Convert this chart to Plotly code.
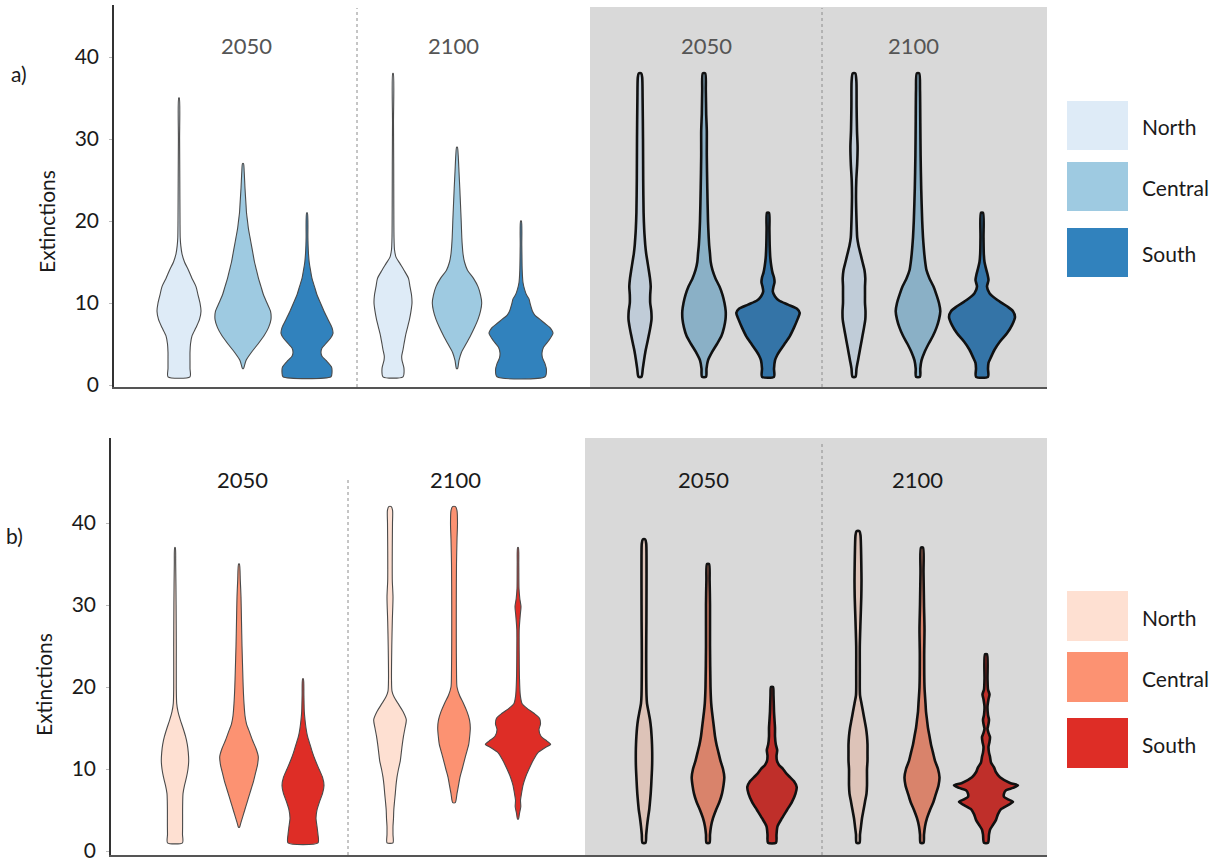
import plotly.graph_objects as go

# ---------------- data ----------------
REGIONS = ["North", "Central", "South"]
YEAR_LABELS = ["2050", "2100", "2050", "2100"]
Y_TICKS = [0, 10, 20, 30, 40]

# Violin density profiles: (extinctions, relative half-width)
# Panel a) white background
A_W50_N = [(1,11),(2,11),(3,11),(4,11),(5,11.5),(6,13),(7,17),(8,20.5),(9,22),(10,21),(11,19),(12,17),(13,13),(14,9.5),(15,5.5),(16,3),(17,1.8),(18,1.2),(20,1.0),(25,0.8),(30,0.6),(35,0.3)]
A_W50_C = [(2,0.5),(3,3),(4,8.5),(5,15),(6,21),(7,25.5),(8,28),(9,27.5),(10,24),(11,20.5),(12,18),(13,15.5),(14,13.5),(15,11.5),(16,10),(17,8.5),(18,7),(19,5.5),(20,4.5),(21,3.5),(22,3),(24,2),(26,1.2),(27,0.5)]
A_W50_S = [(1,24),(1.5,25),(2.2,24.5),(3,19),(3.5,15),(4,14),(4.5,15),(5,18.5),(5.7,23.5),(6.3,26),(7,25),(8,21),(9,17),(10,13.5),(11,10),(12,7.5),(13,5),(14,3.5),(15,2.2),(16,1.5),(17,1.1),(18,0.9),(21,0.4)]
A_W100_N = [(1,10),(2,11),(3,9),(3.5,8.7),(4.3,10),(5,11),(6,12.5),(7,14.5),(8,16.5),(9,18),(10,19),(11,18.5),(12,17),(13,15.5),(14,11),(14.8,7),(15.6,3),(16.5,1.5),(18,1),(22,0.8),(27,0.7),(32,0.5),(38,0.3)]
A_W100_C = [(2,0.5),(3,2),(4,4.5),(5,9),(6,13.5),(7,17.5),(8,21),(9,23.5),(10,24.7),(11,23.5),(12,21),(13,16.5),(14,10.5),(15,7.5),(16,6),(17,5.3),(18,4.8),(20,4.2),(22,3.5),(24,2.8),(26,2),(28,1.2),(29,0.4)]
A_W100_S = [(1,24),(1.8,25.5),(2.6,24),(3.3,21.5),(3.9,21),(4.6,22.5),(5.3,27),(6.3,32),(7,29),(7.5,24),(8,19),(8.5,14),(9,11.5),(10,9),(10.5,8),(11,5.5),(11.6,3.7),(12.5,2),(14,1.2),(17,0.8),(20,0.4)]
# Panel a) grey background
A_G50_N = [(1,1.5),(2,2.8),(3,4),(4,5.3),(5,7),(6,8.7),(7,10.3),(8,11.5),(9,11.3),(10,10.2),(11,10.2),(12,10.7),(13,10),(14,8.8),(15,7.5),(16,6.2),(17,5.3),(18,4.7),(19,4.2),(21,3.6),(25,3.2),(30,3),(35,2.6),(37.5,2.2),(38,1.3)]
A_G50_C = [(1,2),(2,2.5),(3,4),(4,8),(5,13),(6,17.5),(7,20),(8,21.5),(9,21.7),(10,20.5),(11,18.5),(12,15.5),(13,11.5),(14,8.5),(15,6.7),(16,6),(17,5.2),(18,4.7),(20,4),(24,3.3),(28,2.8),(31,2.8),(33,2.2),(36,1.8),(38,1.2)]
A_G50_S = [(1,6),(2,6),(3,7),(3.6,9),(4.2,12),(5,16.5),(6,22),(7,26),(8,29.5),(8.8,31.7),(9.3,29),(9.8,20),(10.3,11),(10.8,7),(11.4,4.8),(12,5.5),(12.5,6.5),(13.1,6),(13.7,4.5),(14.5,3.3),(15.5,2.3),(17,1.7),(19,1.4),(21,1)]
A_G100_N = [(1,1.5),(2,2.5),(3,4),(4,5.5),(5,7),(6,8.5),(7,10),(8,11.3),(9,11.5),(10,11),(11,11),(12,11),(13,11.3),(14,10.5),(15,8.5),(16,6.5),(17,4.5),(18,3.2),(19,2.8),(21,2.3),(23,2),(25,2.3),(27,3.2),(29,3.6),(31,3),(34,2.6),(37,2.4),(38,1.3)]
A_G100_C = [(1,2),(2,2.3),(3,3.5),(4,6.5),(5,10.5),(6,15),(7,18.5),(8,21),(9,22.3),(10,21),(11,18.5),(12,15.5),(13,11.5),(14,8.5),(15,7.2),(16,6.3),(17,5.6),(18,5),(20,4.2),(24,3.2),(28,2.6),(32,2.3),(36,2),(38,1.2)]
A_G100_S = [(1,6),(2,6),(2.7,6.5),(3.4,9),(4.3,12.5),(5.3,18),(6.3,25),(7.3,30),(8.3,33),(9,31),(9.6,25),(10.4,15),(11.2,7.5),(12,5),(12.8,6.5),(13.5,5.5),(14.2,4),(15,2.5),(16,1.8),(18,1.5),(21,1)]

# Panel b) white background
B_W50_N = [(1,7.5),(2,7.5),(3,7.6),(4,7.6),(5,7.6),(6,7.7),(7,8),(8,9.5),(9,11.5),(10,13),(11,13.7),(12,13.3),(13,12.3),(14,10.5),(15,8),(16,5.3),(17,3),(18,1.7),(20,1.3),(25,1.3),(30,1.1),(35,0.7),(37,0.3)]
B_W50_C = [(2.9,0.5),(3.5,2),(4.5,4.5),(5.5,7),(6.5,9.5),(7.5,12),(8.5,14.5),(9.5,16.5),(10.5,18.5),(11.5,19.3),(12.5,17),(13.5,13.5),(14.5,10.5),(15.5,7.5),(16.5,6),(18,5),(20,4.2),(22,3.7),(25,3),(28,2.5),(31,2),(33,1.3),(35,0.4)]
B_W50_S = [(1,15),(2,15),(3,14),(4,13),(5,14),(6,16.5),(7,19.5),(8,21),(9,19.5),(10,16),(11,12.5),(12,9.5),(13,7),(14,4.5),(15,3),(16,2),(17,1.3),(19,0.9),(21,0.4)]
B_W100_N = [(1,3),(2,3),(3,3),(4,3.5),(5,3.8),(6,4.5),(7,5.3),(8,6),(9,7),(10,8.5),(11,10.3),(12,11.3),(13,12.3),(14,13.5),(15,15),(16,16.3),(17,13),(18,8),(18.8,4),(19.5,2),(21,1.5),(25,1.8),(28,2.3),(31,3),(33,2.3),(37,2.3),(40,2.5),(41.5,2.6),(42,1.3)]
B_W100_C = [(5.9,1.3),(7,3),(8,4.5),(9,6),(10,8.2),(11,10.3),(12,12.5),(13,14.7),(14,15.7),(15,16.3),(16,15.5),(17,13),(18,9.5),(19,5.5),(20,3),(22,2.5),(26,2.3),(30,2.3),(35,2.5),(38,3),(40,3.5),(41.5,3),(42,1.5)]
B_W100_S = [(3.9,0.5),(4.6,1.5),(5.4,2.8),(6.2,2.5),(7,3.5),(8,5),(9,7.5),(10,11),(11,15),(12,20),(12.6,27),(13,32.7),(13.4,29),(14,23),(14.8,21),(15.5,22.5),(16.2,21.5),(16.8,16),(17.4,9),(18,4),(19,2.3),(21,1.5),(24,1.2),(27,1.2),(28.7,2.2),(29.8,3),(30.8,1.8),(32,1),(35,0.8),(37,0.4)]
# Panel b) grey background
B_G50_N = [(1,1.5),(2,2.2),(3,3),(4,4),(5,5.2),(6,6),(7,6.7),(8,7.2),(9,7.6),(10,8),(11,8.2),(12,8.2),(13,8),(14,7.6),(15,7),(16,6),(17,4.5),(18,3),(19,2.5),(24,2.2),(28,2.4),(32,2.5),(36,2.5),(37.5,2.2),(38,1.2)]
B_G50_C = [(1,1.5),(2,2),(3,3),(4,5),(5,8),(6,11.5),(7,14),(8,15.5),(9,16.3),(10,15),(11,12.5),(12,10.5),(13,8.5),(14,7),(15,6),(16,5),(17,4),(18,3.2),(20,2.5),(25,2),(30,2),(33,1.6),(35,1)]
B_G50_S = [(1,4),(2,4.5),(3,5.5),(4,10),(5,15),(6,20),(7,23.5),(7.8,24.7),(8.5,22),(9,18),(9.5,14),(10,11),(10.5,7),(11,5),(11.6,4.5),(12.3,5.2),(13,3.8),(14,3),(15,3),(16,2.5),(17,2),(19,1.5),(20,1)]
B_G100_N = [(1,1.5),(2,2),(3,3),(4,4),(5,5.5),(6,7),(7,8.5),(8,9),(9,9),(10,9),(11,9.5),(12,9.5),(13,9.5),(14,9),(15,8),(16,6.5),(17,5),(18,3.5),(19,2),(22,1.8),(25,1.8),(28,2.5),(31,3.3),(33,3.5),(35,3.3),(37,3),(38.5,2.5),(39,1.5)]
B_G100_C = [(1,1.5),(2,2),(3,3),(4,5),(5,8),(6,11.5),(7,14),(8,16.5),(9,17.5),(10,16),(11,13),(12,11),(13,9),(14,7.5),(15,6),(16,5),(17,4),(18,3.5),(20,2.5),(24,2.2),(27,2.5),(30,2),(34,1.5),(37,1)]
B_G100_S = [(1,2),(2,3),(2.6,4),(3.2,7),(3.8,10),(4.5,12),(5.1,15),(5.6,22),(6,27),(6.3,22),(6.6,18),(7,18),(7.4,20),(7.7,27),(8,32),(8.3,24),(9,14),(9.6,10),(10.2,8),(10.8,5),(11.5,4),(12,3),(12.7,2.5),(13.3,3.5),(13.9,4),(14.4,2.5),(14.9,1.5),(15.5,2.5),(16,3),(16.6,2),(17.6,1.5),(18.5,2.5),(19.1,3.5),(19.7,2),(21,1.5),(24,1)]

PANEL_A = [[A_W50_N, A_W50_C, A_W50_S], [A_W100_N, A_W100_C, A_W100_S],
           [A_G50_N, A_G50_C, A_G50_S], [A_G100_N, A_G100_C, A_G100_S]]
PANEL_B = [[B_W50_N, B_W50_C, B_W50_S], [B_W100_N, B_W100_C, B_W100_S],
           [B_G50_N, B_G50_C, B_G50_S], [B_G100_N, B_G100_C, B_G100_S]]

# ---------------- styles / layout constants ----------------
W, H = 1225, 865
SLOT = 64.0            # px between neighbouring violins
FONT = "Lato"
BLUES = ["#DEEBF7", "#9ECAE1", "#3182BD"]
BLUES_GREY = ["#C0CCD8", "#8AB0C6", "#3474A7"]
REDS = ["#FEE0D2", "#FC9272", "#DE2D26"]
REDS_GREY = ["#DDC3B8", "#D9836B", "#BF2F2A"]
GREY_BG = "#D9D9D9"

PANELS = [
    dict(name="a", data=PANEL_A, cols=BLUES, cols_g=BLUES_GREY, xa="x", ya="y",
         left=114, right=1047, top=5, bottom=387, zero=385, ppu=8.2,
         centers=[243, 457, 704, 918], grey_x=590, grey_top=7,
         dotted=[(357, 8), (822, 8)], year_y=45, year_col="#555555",
         year_x=[246, 453, 706, 913], label=("a)", 19, 73), ytitle=(47, 222),
         leg_top=[101, 162, 228], leg_h=49),
    dict(name="b", data=PANEL_B, cols=REDS, cols_g=REDS_GREY, xa="x2", ya="y2",
         left=111, right=1047, top=438, bottom=855, zero=851, ppu=8.2,
         centers=[239, 454, 708, 922], grey_x=585, grey_top=438,
         dotted=[(348, 480), (822, 443)], year_y=480, year_col="#1a1a1a",
         year_x=[242, 455, 703, 917], label=("b)", 14, 535), ytitle=(43, 685),
         leg_top=[591, 652, 718], leg_h=50),
]

fig = go.Figure()
shapes, annotations = [], []
layout_axes = {}

for p in PANELS:
    xr = [0, (p["right"] - p["left"]) / SLOT]
    y0 = -(p["bottom"] - p["zero"]) / (p["ppu"])
    y1 = (p["zero"] - p["top"]) / p["ppu"]
    def val(py, p=p):
        return (p["zero"] - py) / p["ppu"]
    def xu(px, p=p):
        return (px - p["left"]) / SLOT

    # grey background block and dotted separators
    shapes.append(dict(type="rect", xref=p["xa"], yref=p["ya"], x0=xu(p["grey_x"]), x1=xr[1],
                       y0=y0, y1=val(p["grey_top"]), fillcolor=GREY_BG, line=dict(width=0), layer="below"))
    for (dx, dtop) in p["dotted"]:
        shapes.append(dict(type="line", xref=p["xa"], yref=p["ya"], x0=xu(dx), x1=xu(dx),
                           y0=y0, y1=val(dtop), line=dict(color="#8c8c8c", width=1, dash="dot"), layer="below"))

    for g, group in enumerate(p["data"]):
        grey = g >= 2
        for k, prof in enumerate(group):
            c = xu(p["centers"][g]) + (k - 1)
            ys = [v for v, _ in prof]
            ws = [w / SLOT for _, w in prof]
            xs = [c - w for w in ws] + [c + w for w in ws[::-1]] + [c - ws[0]]
            yy = ys + ys[::-1] + [ys[0]]
            fill = (p["cols_g"] if grey else p["cols"])[k]
            fig.add_trace(go.Scatter(
                x=xs, y=yy, xaxis=p["xa"], yaxis=p["ya"], mode="lines",
                fill="toself", fillcolor=fill,
                line=dict(color="#111111" if grey else "#4a4a4a", width=2.6 if grey else 1.1,
                          shape="spline", smoothing=0.7),
                hoverinfo="skip", showlegend=False, name=REGIONS[k]))
        annotations.append(dict(xref="paper", yref="paper", x=p["year_x"][g] / W, y=1 - p["year_y"] / H,
                                text=YEAR_LABELS[g], showarrow=False, xanchor="center", yanchor="middle",
                                font=dict(family=FONT, size=22, color=p["year_col"])))

    # panel label and y title
    lab, lx, ly = p["label"]
    annotations.append(dict(xref="paper", yref="paper", x=lx / W, y=1 - ly / H, text=lab, showarrow=False,
                            xanchor="center", yanchor="middle", font=dict(family=FONT, size=21, color="#1a1a1a")))
    tx, ty = p["ytitle"]
    annotations.append(dict(xref="paper", yref="paper", x=tx / W, y=1 - ty / H, text="Extinctions",
                            textangle=-90, showarrow=False, xanchor="center", yanchor="middle",
                            font=dict(family=FONT, size=21, color="#1a1a1a")))

    # legend boxes
    cols = p["cols"]
    for k, top in enumerate(p["leg_top"]):
        shapes.append(dict(type="rect", xref="paper", yref="paper", x0=1067 / W, x1=1128 / W,
                           y0=1 - (top + p["leg_h"]) / H, y1=1 - top / H, fillcolor=cols[k], line=dict(width=0)))
        annotations.append(dict(xref="paper", yref="paper", x=1140 / W, y=1 - (top + p["leg_h"] / 2 + 1) / H,
                                text=REGIONS[k], showarrow=False, xanchor="left", yanchor="middle",
                                font=dict(family=FONT, size=21, color="#1a1a1a")))

    xkey = "xaxis" if p["xa"] == "x" else "xaxis2"
    ykey = "yaxis" if p["ya"] == "y" else "yaxis2"
    layout_axes[xkey] = dict(domain=[p["left"] / W, p["right"] / W], range=xr, anchor=p["ya"],
                             showgrid=False, zeroline=False, showticklabels=False, ticks="",
                             automargin=False,
                             showline=True, linecolor="#555555", linewidth=2, fixedrange=True)
    layout_axes[ykey] = dict(domain=[1 - p["bottom"] / H, 1 - p["top"] / H], range=[y0, y1], anchor=p["xa"],
                             showgrid=False, zeroline=False, tickvals=Y_TICKS, ticks="outside", ticklen=3,
                             tickcolor="#bbbbbb", ticklabelstandoff=6, automargin=False,
                             ticklabeloverflow="allow",
                             tickfont=dict(family=FONT, size=21, color="#1a1a1a"),
                             showline=True, linecolor="#333333", linewidth=1.5, fixedrange=True)

fig.update_layout(width=W, height=H, margin=dict(l=0, r=0, t=0, b=0, pad=0), autosize=False,
                  paper_bgcolor="white", plot_bgcolor="white", showlegend=False,
                  shapes=shapes, annotations=annotations, **layout_axes)

fig.write_html("out.html")
